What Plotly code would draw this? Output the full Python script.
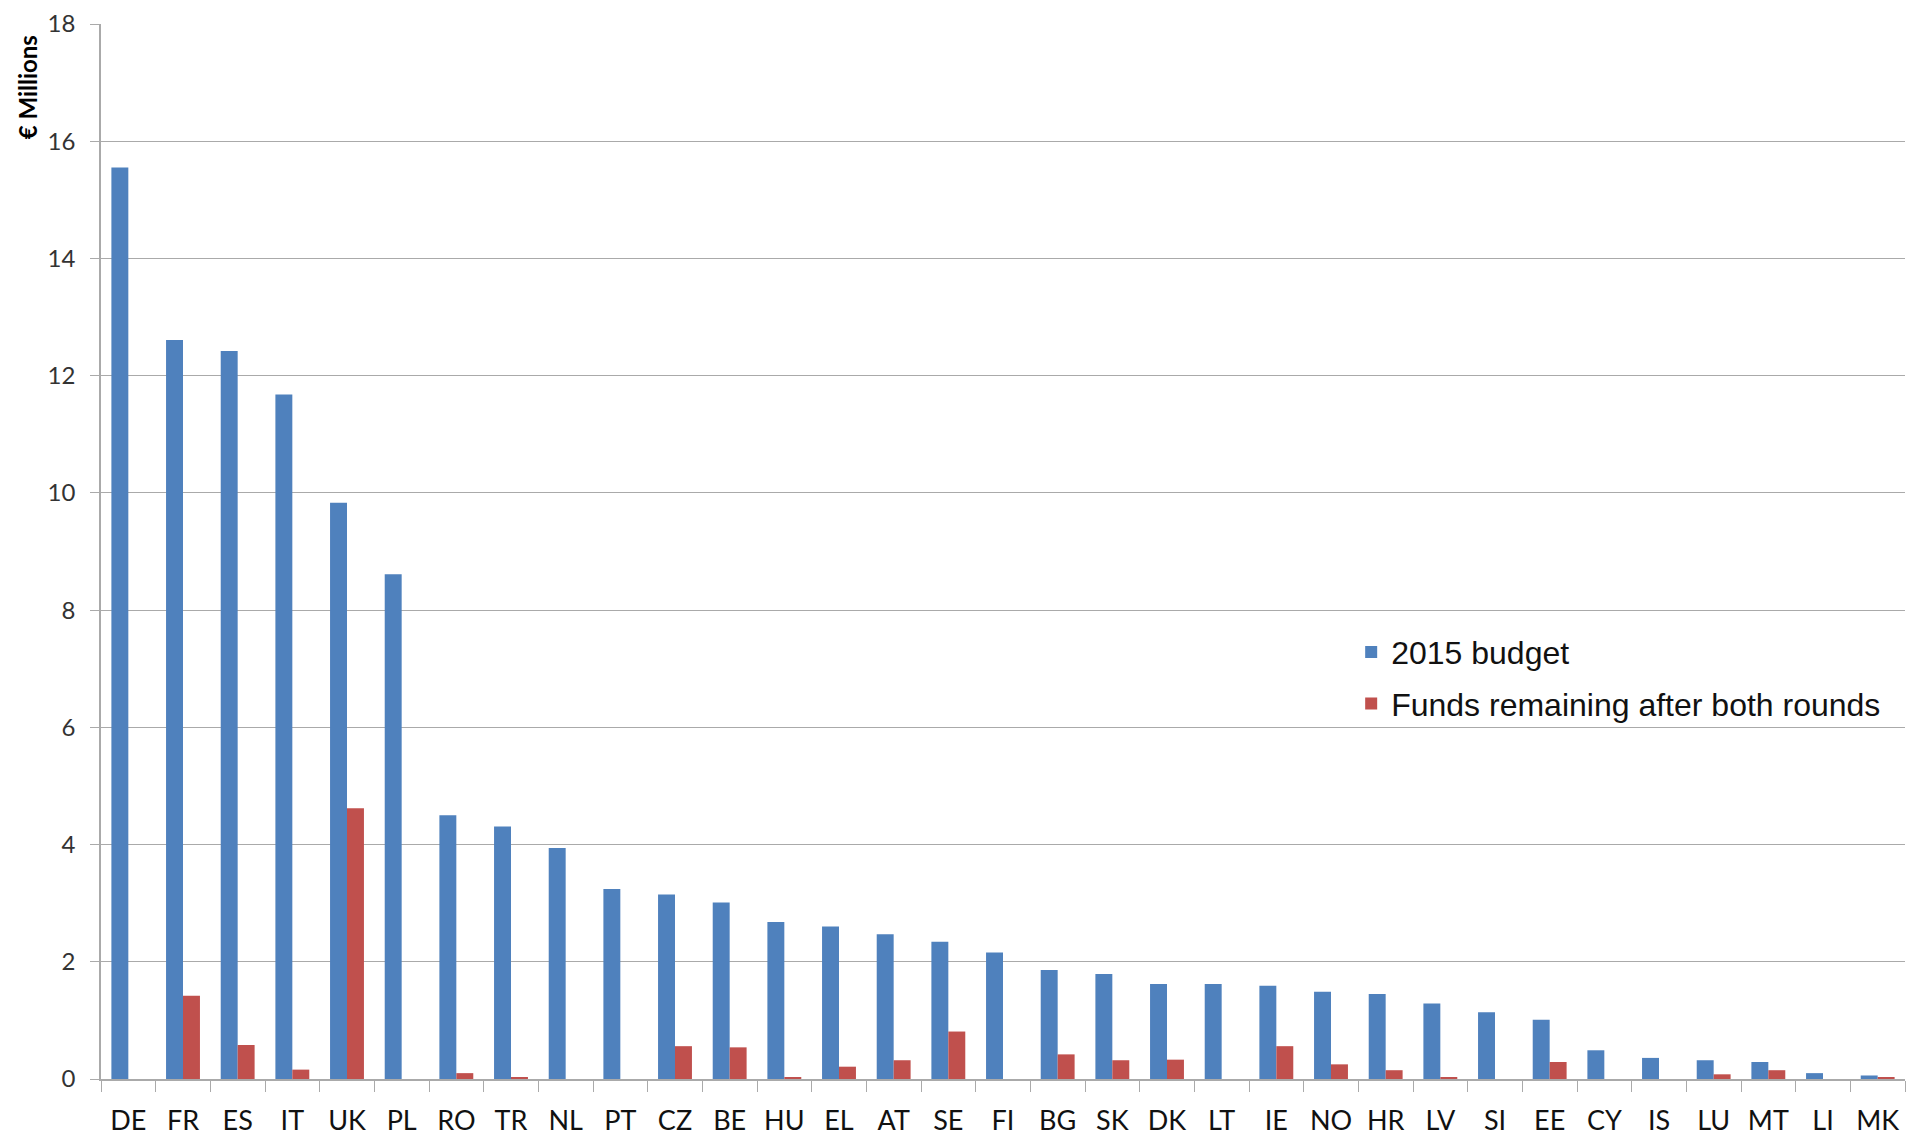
import plotly.graph_objects as go

countries = ["DE", "FR", "ES", "IT", "UK", "PL", "RO", "TR", "NL", "PT", "CZ", "BE", "HU",
             "EL", "AT", "SE", "FI", "BG", "SK", "DK", "LT", "IE", "NO", "HR", "LV", "SI",
             "EE", "CY", "IS", "LU", "MT", "LI", "MK"]
budget_2015 = [15.55, 12.61, 12.42, 11.68, 9.83, 8.61, 4.50, 4.31, 3.94, 3.24, 3.15, 3.01, 2.68,
               2.60, 2.47, 2.34, 2.16, 1.86, 1.79, 1.62, 1.62, 1.59, 1.49, 1.45, 1.29, 1.14,
               1.01, 0.49, 0.36, 0.32, 0.29, 0.10, 0.06]
funds_remaining = [0.0, 1.42, 0.58, 0.16, 4.62, 0.0, 0.10, 0.03, 0.0, 0.0, 0.56, 0.54, 0.03,
                   0.21, 0.32, 0.81, 0.0, 0.42, 0.32, 0.33, 0.0, 0.56, 0.25, 0.15, 0.03, 0.0,
                   0.29, 0.0, 0.0, 0.08, 0.15, 0.0, 0.03]
y_ticks = [0, 2, 4, 6, 8, 10, 12, 14, 16, 18]

fig = go.Figure()
fig.add_trace(go.Bar(x=countries, y=budget_2015, name="2015 budget", legendgroup="a",
                     marker=dict(color="#4F81BD", line=dict(width=0))))
fig.add_trace(go.Bar(x=countries, y=funds_remaining, name="Funds remaining after both rounds",
                     legendgroup="b",
                     marker=dict(color="#C0504D", line=dict(width=0))))

fig.update_layout(
    width=1909, height=1130,
    margin=dict(l=93, r=12, t=16, b=59),
    plot_bgcolor="white", paper_bgcolor="white",
    barmode="group", bargap=0.38, bargroupgap=0,
    font=dict(family="Lato, sans-serif", color="#222"),
    showlegend=True,
    legend=dict(x=0.693, y=0.38, xanchor="left", yanchor="middle",
                bgcolor="rgba(0,0,0,0)",
                font=dict(family="Liberation Sans, Arial, sans-serif", size=32, color="#111"),
                tracegroupgap=7, itemwidth=30),
    xaxis=dict(type="category", tickson="boundaries", ticks="outside", ticklen=11,
               tickcolor="#aaaaaa", showline=True, linecolor="#aaaaaa", linewidth=1.5,
               tickfont=dict(size=27, color="#111"), showgrid=False, automargin=False,
               ticklabelstandoff=17),
    yaxis=dict(range=[0, 18.0001], tickvals=y_ticks, ticks="outside", ticklen=9,
               tickcolor="#aaaaaa", showline=True, linecolor="#aaaaaa", linewidth=1.5,
               gridcolor="#aaaaaa", gridwidth=1, zeroline=False, automargin=False,
               tickfont=dict(size=24, color="#333"), ticklabelstandoff=10,
               ticklabeloverflow="allow"),
    annotations=[dict(text="<b>€ Millions</b>", textangle=-90, xref="paper", yref="paper",
                      x=-0.041, y=0.94, xanchor="center", yanchor="middle", showarrow=False,
                      font=dict(family="Lato, sans-serif", size=24, color="#000"))],
)

fig.write_html("out.html")
